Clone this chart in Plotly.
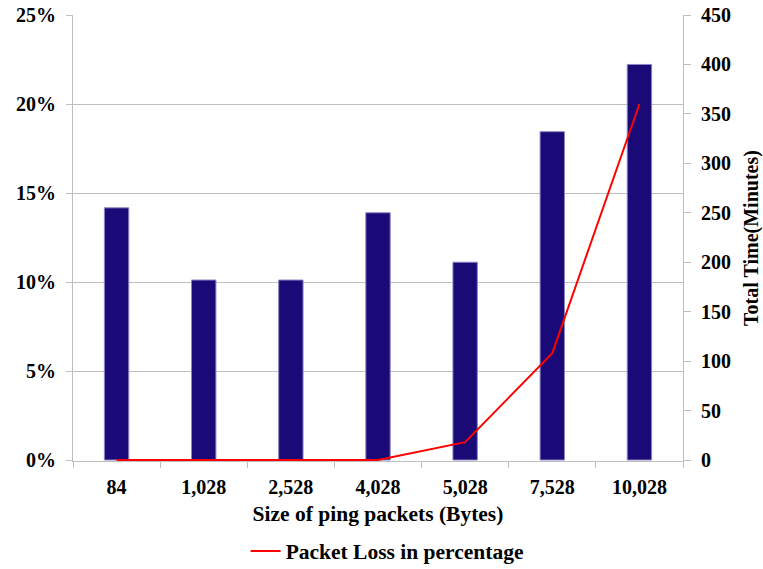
import plotly.graph_objects as go

# Ping packet sizes (bytes) used as categories
packet_sizes = ["84", "1,028", "2,528", "4,028", "5,028", "7,528", "10,028"]
# Total time to complete the run, in minutes (bars, right axis)
total_time_min = [255, 182, 182, 250, 200, 332, 400]
# Packet loss, in percent (line, left axis)
packet_loss_pct = [0, 0, 0, 0, 1, 6, 20]

FONT = dict(family="Liberation Serif, Times New Roman, serif", size=20,
            color="black", weight="bold")
TITLE_FONT = dict(FONT, size=21.5)
GRID = "#bfbfbf"

# Lift the zero of both value axes by about one pixel so the red line
# lying on 0 % is not half cut away by the plot-area clip.
PLOT_H = 446
LOSS_MAX, TIME_MAX = 25, 450
loss_range = [-LOSS_MAX / (PLOT_H - 1), LOSS_MAX]
time_range = [-TIME_MAX / (PLOT_H - 1), TIME_MAX]

fig = go.Figure()

fig.add_trace(go.Bar(
    x=packet_sizes, y=total_time_min, yaxis="y",
    marker=dict(color="#1a0a78", line=dict(color="#8a86c4", width=1)),
    width=0.28, showlegend=False, name="Total Time(Minutes)",
))

fig.add_trace(go.Scatter(
    x=packet_sizes, y=packet_loss_pct, yaxis="y2",
    mode="lines", line=dict(color="#ff0000", width=2),
    name="Packet Loss in percentage",
))

fig.update_layout(
    width=763, height=569,
    margin=dict(l=73, r=80, t=15, b=108),
    paper_bgcolor="white", plot_bgcolor="white",
    font=FONT,
    xaxis=dict(
        type="category", automargin=False,
        showline=True, linecolor=GRID, linewidth=1, layer="below traces",
        ticks="outside", tickson="boundaries", ticklen=6, tickcolor=GRID,
        ticklabelstandoff=8,
        showgrid=False,
        title=dict(text="Size of ping packets (Bytes)", font=TITLE_FONT, standoff=8),
        tickfont=FONT,
    ),
    yaxis=dict(
        side="right", range=time_range, tick0=0, dtick=50, automargin=False,
        showline=True, linecolor=GRID, linewidth=1,
        ticks="outside", ticklen=7, tickcolor=GRID,
        ticklabelstandoff=6,
        showgrid=False, zeroline=False,
        title=dict(text="Total Time(Minutes)", font=FONT, standoff=13),
        tickfont=FONT,
    ),
    yaxis2=dict(
        overlaying="y", side="left", range=loss_range, tick0=0, dtick=5,
        ticksuffix="%", automargin=False,
        showline=True, linecolor=GRID, linewidth=1,
        ticks="outside", ticklen=6, tickcolor=GRID,
        ticklabelstandoff=6,
        showgrid=True, gridcolor=GRID, gridwidth=1, zeroline=False,
        tickfont=FONT,
    ),
    legend=dict(
        orientation="h", x=0.515, xanchor="center",
        yref="container", y=(569 - 551) / 569, yanchor="middle",
        font=TITLE_FONT, itemwidth=30, bgcolor="rgba(0,0,0,0)",
    ),
    showlegend=True,
)

fig.write_html("out.html")
